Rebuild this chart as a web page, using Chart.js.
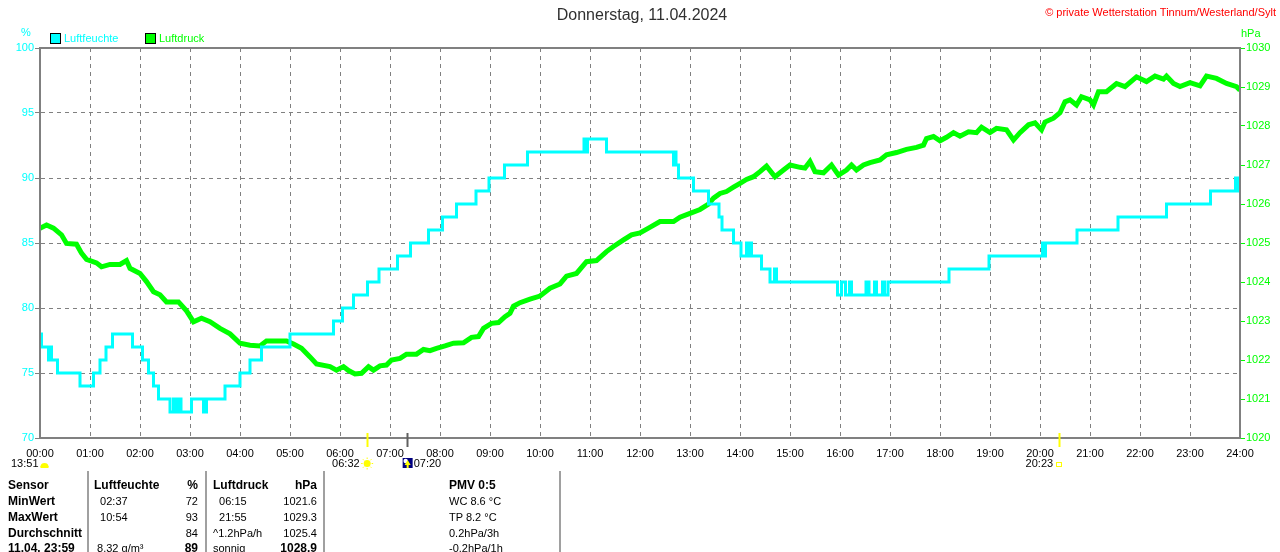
<!DOCTYPE html>
<html><head><meta charset="utf-8">
<script src="https://cdn.jsdelivr.net/npm/chart.js@4"></script>
<style>
html,body{margin:0;padding:0;background:#fff}
body{width:1280px;height:552px;overflow:hidden;position:relative;font-family:"Liberation Sans",Arial,sans-serif}
canvas{position:absolute;left:0;top:0}
.t{position:absolute;white-space:pre;line-height:1}
.sep{position:absolute;top:471px;height:90px;width:2px;background:#a0a0a0}
.sq{position:absolute;width:9px;height:9px;border:1px solid #000}
</style></head><body>
<canvas id="c" width="1280" height="552"></canvas>
<script>
// ---------- data ----------
const xTickLabels = ["00:00","01:00","02:00","03:00","04:00","05:00","06:00","07:00","08:00","09:00","10:00","11:00","12:00","13:00","14:00","15:00","16:00","17:00","18:00","19:00","20:00","21:00","22:00","23:00","24:00"];
const humTicks = [70,75,80,85,90,95,100];
const presTicks = [1020,1021,1022,1023,1024,1025,1026,1027,1028,1029,1030];

// humidity (%) : time of change (h) and new value
const humTimes = [0.00,0.03,0.17,0.20,0.23,0.35,0.80,1.07,1.20,1.32,1.45,1.85,2.05,2.17,2.27,2.37,2.60,2.67,2.72,2.77,2.82,3.03,3.27,3.33,3.70,4.00,4.20,4.43,5.00,5.87,6.05,6.27,6.55,6.78,7.15,7.41,7.77,8.05,8.33,8.72,8.98,9.29,9.75,10.88,10.92,10.95,11.33,12.67,12.70,12.72,12.77,13.07,13.37,13.58,13.64,13.87,14.02,14.13,14.16,14.19,14.23,14.43,14.60,14.69,14.73,15.95,16.03,16.11,16.19,16.23,16.52,16.58,16.69,16.73,16.85,16.89,16.96,18.18,18.98,20.05,20.08,20.11,20.74,21.56,22.53,23.41,23.91,23.96,24.00];
const humValues = [78,77,76,77,76,75,74,75,76,77,78,77,76,75,74,73,72,73,72,73,72,73,72,73,74,75,76,77,78,79,80,81,82,83,84,85,86,87,88,89,90,91,92,93,92,93,92,91,92,91,90,89,88,87,86,85,84,85,84,85,84,83,82,83,82,81,82,81,82,81,82,81,82,81,82,81,82,83,84,85,84,85,86,87,88,89,90,89,89];

// pressure (hPa)
const presTimes = [0.00,0.13,0.27,0.43,0.53,0.73,0.83,0.93,1.13,1.23,1.40,1.60,1.73,1.80,2.00,2.13,2.27,2.40,2.53,2.77,2.93,3.07,3.23,3.40,3.60,3.80,4.00,4.20,4.40,4.53,4.93,5.07,5.23,5.40,5.53,5.80,5.93,6.07,6.17,6.30,6.43,6.57,6.67,6.80,6.93,7.03,7.20,7.33,7.53,7.67,7.80,7.93,8.10,8.27,8.47,8.63,8.77,8.87,9.03,9.17,9.30,9.40,9.47,9.60,9.80,10.00,10.20,10.40,10.53,10.73,10.93,11.13,11.33,11.47,11.67,11.83,12.00,12.17,12.40,12.67,12.80,13.00,13.20,13.37,13.47,13.60,13.73,13.87,14.00,14.13,14.27,14.40,14.53,14.70,14.87,15.00,15.20,15.30,15.40,15.50,15.67,15.83,15.97,16.13,16.23,16.33,16.47,16.60,16.80,16.93,17.13,17.33,17.53,17.67,17.73,17.87,18.00,18.13,18.27,18.40,18.57,18.73,18.83,19.00,19.13,19.33,19.47,19.60,19.77,19.90,20.03,20.10,20.27,20.40,20.50,20.60,20.73,20.83,21.00,21.07,21.17,21.33,21.53,21.70,21.93,22.13,22.30,22.47,22.53,22.67,22.80,23.00,23.20,23.33,23.53,23.73,23.93,24.00];
const presValues = [1025.38,1025.46,1025.38,1025.21,1024.99,1024.97,1024.74,1024.58,1024.49,1024.39,1024.45,1024.45,1024.55,1024.35,1024.22,1024.01,1023.75,1023.67,1023.49,1023.49,1023.26,1022.98,1023.07,1022.98,1022.81,1022.67,1022.43,1022.38,1022.36,1022.49,1022.49,1022.41,1022.30,1022.08,1021.90,1021.83,1021.74,1021.83,1021.73,1021.64,1021.66,1021.83,1021.74,1021.85,1021.87,1022.00,1022.04,1022.15,1022.15,1022.27,1022.24,1022.30,1022.36,1022.43,1022.44,1022.58,1022.60,1022.81,1022.94,1022.96,1023.11,1023.20,1023.38,1023.47,1023.56,1023.64,1023.84,1023.95,1024.15,1024.22,1024.52,1024.55,1024.78,1024.91,1025.08,1025.21,1025.26,1025.38,1025.55,1025.55,1025.66,1025.76,1025.86,1026.00,1026.15,1026.27,1026.32,1026.43,1026.53,1026.63,1026.70,1026.83,1026.97,1026.70,1026.87,1027.00,1026.94,1026.92,1027.09,1026.83,1026.80,1027.00,1026.74,1026.87,1027.00,1026.87,1027.00,1027.06,1027.13,1027.26,1027.32,1027.40,1027.45,1027.51,1027.68,1027.73,1027.62,1027.71,1027.83,1027.74,1027.85,1027.83,1027.97,1027.83,1027.94,1027.90,1027.64,1027.83,1028.03,1028.08,1027.90,1028.10,1028.20,1028.34,1028.62,1028.67,1028.54,1028.75,1028.67,1028.54,1028.88,1028.88,1029.09,1029.01,1029.26,1029.14,1029.28,1029.20,1029.28,1029.09,1029.01,1029.11,1029.03,1029.28,1029.22,1029.09,1029.01,1028.92];

// sun markers
const sunTimes = [6.533, 7.333, 20.383];
const sunLabels = ["06:32", "07:20", "20:23"];
const dayLength = "13:51";

// table
const sensorCol = ["Sensor","MinWert","MaxWert","Durchschnitt","11.04. 23:59"];
const humTimeCol = ["Luftfeuchte","  02:37","  10:54",""," 8.32 g/m³"];
const humValCol = ["%","72","93","84","89"];
const presTimeCol = ["Luftdruck","  06:15","  21:55","^1.2hPa/h","sonnig"];
const presValCol = ["hPa","1021.6","1029.3","1025.4","1028.9"];
const pmvCol = ["PMV 0:5","WC 8.6 °C","TP 8.2 °C","0.2hPa/3h","-0.2hPa/1h"];

const titleText = "Donnerstag, 11.04.2024";
const copyText = "© private Wetterstation Tinnum/Westerland/Sylt";
const seriesNames = ["Luftfeuchte", "Luftdruck"];

// ---------- layout helpers ----------
const FONT = '"Liberation Sans", Arial, sans-serif';
function addText(str, x, yc, size, color, bold, align) {
  const d = document.createElement('div');
  d.className = 't';
  d.textContent = str;
  d.style.fontSize = size + 'px';
  d.style.color = color;
  if (bold) d.style.fontWeight = 'bold';
  d.style.top = (yc - size * 0.49) + 'px';
  if (align === 'right') d.style.right = (1280 - x) + 'px';
  else if (align === 'center') { d.style.left = x + 'px'; d.style.transform = 'translateX(-50%)'; }
  else d.style.left = x + 'px';
  document.body.appendChild(d);
}
function addBox(cls, x, y, bg) {
  const d = document.createElement('div');
  d.className = cls; d.style.left = x + 'px'; d.style.top = y + 'px';
  if (bg) d.style.background = bg;
  document.body.appendChild(d);
}

addText(titleText, 642, 15, 16, '#303030', false, 'center');
addText(copyText, 1276, 12, 11, '#ff0000', false, 'right');
addText('%', 26, 32, 11, '#00ffff', false, 'center');
addText('hPa', 1241, 33, 11, '#00ff00', false, 'left');
addBox('sq', 50, 33, '#00ffff');
addText(seriesNames[0], 64, 38, 11, '#00ffff', false, 'left');
addBox('sq', 145, 33, '#00ff00');
addText(seriesNames[1], 159, 38, 11, '#00ff00', false, 'left');

// table
const rowY = [485, 501, 517, 533, 548];
[88, 206, 324, 560].forEach(x => addBox('sep', x - 1, 471));
for (let r = 0; r < rowY.length; r++) {
  const y = rowY[r];
  const hdr = r === 0, last = r === rowY.length - 1;
  const fs = (b) => b ? 12 : 11;
  addText(sensorCol[r], 8, y, 12, '#000', true, 'left');
  addText(humTimeCol[r], 94, y, fs(hdr), '#000', hdr, 'left');
  addText(humValCol[r], 198, y, fs(hdr || last), '#000', hdr || last, 'right');
  addText(presTimeCol[r], 213, y, fs(hdr), '#000', hdr, 'left');
  addText(presValCol[r], 317, y, fs(hdr || last), '#000', hdr || last, 'right');
  addText(pmvCol[r], 449, y, fs(hdr), '#000', hdr, 'left');
}

// ---------- chart ----------
const markerPlugin = {
  id: 'markers',
  afterDraw(chart) {
    const {ctx, chartArea: a, scales: {x}} = chart;
    ctx.save();
    // frame
    ctx.strokeStyle = '#808080';
    ctx.lineWidth = 2;
    ctx.strokeRect(a.left, a.top, a.right - a.left, a.bottom - a.top);
    // marker ticks
    const colors = ['#ffff00', '#606060', '#ffff00'];
    sunTimes.forEach((t, i) => {
      const px = Math.round(x.getPixelForValue(t)) + 0.5;
      ctx.strokeStyle = colors[i];
      ctx.lineWidth = 2;
      ctx.beginPath(); ctx.moveTo(px, a.bottom - 5); ctx.lineTo(px, a.bottom + 9); ctx.stroke();
    });
    ctx.font = '11px ' + FONT;
    ctx.fillStyle = '#000';
    ctx.textBaseline = 'middle';
    const ly = 464;
    // day length
    ctx.textAlign = 'left';
    ctx.fillText(dayLength, 11, ly);
    ctx.fillStyle = '#ffff00';
    ctx.beginPath(); ctx.ellipse(44.5, 467, 4, 4, 0, Math.PI, 0); ctx.fill();
    ctx.fillRect(40.5, 466, 8, 2);
    // sunrise
    const sx = x.getPixelForValue(sunTimes[0]);
    ctx.fillStyle = '#000'; ctx.textAlign = 'right';
    ctx.fillText(sunLabels[0], sx - 7, ly);
    ctx.fillStyle = '#ffff00'; ctx.strokeStyle = '#ffff00'; ctx.lineWidth = 1;
    ctx.beginPath(); ctx.arc(sx + 0.5, 463.5, 3.5, 0, Math.PI * 2); ctx.fill();
    for (let k = 0; k < 8; k++) {
      const an = k * Math.PI / 4;
      ctx.beginPath();
      ctx.moveTo(sx + 0.5 + Math.cos(an) * 4.5, 463.5 + Math.sin(an) * 4.5);
      ctx.lineTo(sx + 0.5 + Math.cos(an) * 6, 463.5 + Math.sin(an) * 6);
      ctx.stroke();
    }
    // 07:20 icon
    const mx = x.getPixelForValue(sunTimes[1]);
    ctx.fillStyle = '#000080'; ctx.fillRect(mx - 4, 458, 10, 10);
    ctx.fillStyle = '#ffffff'; ctx.beginPath(); ctx.arc(mx - 1, 461, 2.2, 0, Math.PI * 2); ctx.fill();
    ctx.fillStyle = '#ffff00';
    ctx.beginPath(); ctx.moveTo(mx + 1, 460); ctx.lineTo(mx + 4, 465); ctx.lineTo(mx - 2, 465); ctx.closePath(); ctx.fill();
    ctx.fillRect(mx, 465, 2, 3);
    ctx.fillStyle = '#000'; ctx.textAlign = 'left';
    ctx.fillText(sunLabels[1], mx + 7, ly);
    // sunset
    const ex = x.getPixelForValue(sunTimes[2]);
    ctx.textAlign = 'right';
    ctx.fillText(sunLabels[2], ex - 6, ly);
    ctx.strokeStyle = '#ffff00'; ctx.lineWidth = 1;
    ctx.strokeRect(Math.round(ex) - 2.5, 462.5, 5, 4);
    ctx.restore();
  }
};

new Chart(document.getElementById('c'), {
  type: 'line',
  data: {
    datasets: [
      {
        label: seriesNames[0],
        data: humTimes.map((t, i) => ({x: t, y: humValues[i]})),
        yAxisID: 'yH',
        borderColor: '#00ffff',
        backgroundColor: '#00ffff',
        borderWidth: 3,
        pointRadius: 0,
        stepped: 'before',
        fill: false
      },
      {
        label: seriesNames[1],
        data: presTimes.map((t, i) => ({x: t, y: presValues[i]})),
        yAxisID: 'yP',
        borderColor: '#00ff00',
        backgroundColor: '#00ff00',
        borderWidth: 5,
        borderJoinStyle: 'miter',
        pointRadius: 0,
        tension: 0,
        fill: false
      }
    ]
  },
  options: {
    responsive: false,
    animation: false,
    devicePixelRatio: 1,
    layout: {padding: {top: 48, left: 0, right: 0, bottom: 0}},
    plugins: {legend: {display: false}, title: {display: false}, tooltip: {enabled: false}},
    scales: {
      x: {
        type: 'linear', min: 0, max: 24,
        afterFit(s) { s.height = 114; },
        afterBuildTicks(s) { s.ticks = xTickLabels.map((_, i) => ({value: i})); },
        ticks: {
          autoSkip: false, maxRotation: 0, minRotation: 0, padding: 9,
          color: '#000', font: {family: FONT, size: 11},
          callback: (v) => xTickLabels[v]
        },
        grid: {color: '#808080', lineWidth: 1, drawTicks: false},
        border: {color: '#808080', width: 2, dash: [4, 4]}
      },
      yH: {
        position: 'left', min: 70, max: 100,
        afterFit(s) { s.width = 40; },
        afterBuildTicks(s) { s.ticks = humTicks.map(v => ({value: v})); },
        ticks: {color: '#00ffff', padding: 1, font: {family: FONT, size: 11}, callback: (v) => String(v)},
        grid: {color: '#808080', lineWidth: 1, drawTicks: true, tickLength: 5, tickColor: '#808080', tickBorderDash: [], tickWidth: 1},
        border: {color: '#808080', width: 2, dash: [4, 4]}
      },
      yP: {
        position: 'right', min: 1020, max: 1030,
        afterFit(s) { s.width = 40; },
        afterBuildTicks(s) { s.ticks = presTicks.map(v => ({value: v})); },
        ticks: {color: '#00ff00', padding: 1, font: {family: FONT, size: 11}, callback: (v) => String(v)},
        grid: {drawOnChartArea: false, drawTicks: true, tickLength: 5, tickColor: '#00ff00', tickWidth: 1},
        border: {color: '#808080', width: 2}
      }
    }
  },
  plugins: [markerPlugin]
});
</script>
</body></html>
